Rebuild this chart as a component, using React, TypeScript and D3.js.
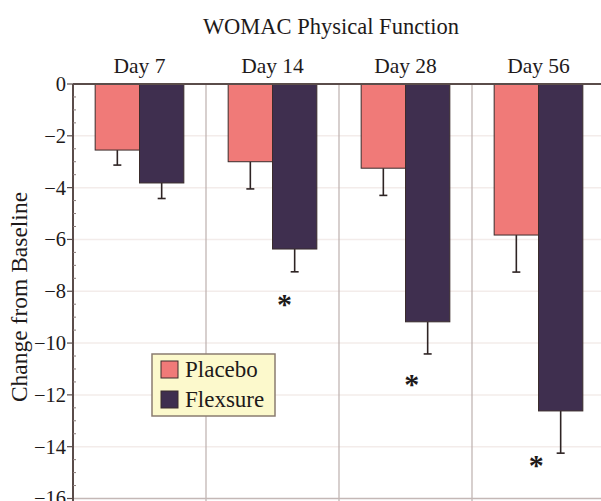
import React from "react";
import * as d3 from "d3";

// values
const days = ["Day 7", "Day 14", "Day 28", "Day 56"];
const series = ["Placebo", "Flexsure"];
const placebo = [-2.55, -3.0, -3.25, -5.83];
const placeboErr = [-3.13, -4.05, -4.3, -7.26];
const flexsure = [-3.82, -6.37, -9.18, -12.62];
const flexsureErr = [-4.42, -7.25, -10.42, -14.25];
const stars = [null, -8.3, -11.4, -14.5];
const starShift = [0, -0.23, -0.36, -0.55]; // star offset, in bar widths, from flexsure bar centre
const yTicks = [0, -2, -4, -6, -8, -10, -12, -14, -16];

const colors = ["#f07a78", "#3f2f4f"];
const W = 601;
const H = 501;
const margin = { top: 84, left: 73, right: -4, bottom: 2 };
const font = "'Liberation Serif', 'Times New Roman', serif";

export default function App() {
  const x = d3.scaleBand().domain(days).range([margin.left, W - margin.right]).padding(0);
  const inner = d3.scaleBand().domain(series).range([0, x.bandwidth()]).paddingInner(0).paddingOuter(0.5);
  const y = d3.scaleLinear().domain([0, -16]).range([margin.top, 498.5]);

  const values = [placebo, flexsure];
  const errs = [placeboErr, flexsureErr];
  const minor = d3.range(0, -16.01, -0.5).filter(v => !yTicks.includes(v));
  const capW = 8;

  return (
    <svg width={W} height={H} style={{ position: "absolute", left: 0, top: 0, background: "#fff" }} fontFamily={font}>
      {/* faint grid */}
      {yTicks.slice(1, -1).map(t => (
        <line key={"g" + t} x1={margin.left} x2={W} y1={y(t)} y2={y(t)} stroke="#f3ecea" strokeWidth={1.5} />
      ))}
      {/* group separators */}
      {days.slice(1).map(d => (
        <line key={"s" + d} x1={x(d)!} x2={x(d)!} y1={margin.top} y2={H} stroke="#bcb0ae" strokeWidth={1.2} />
      ))}
      <line x1={margin.left} x2={W} y1={y(-16)} y2={y(-16)} stroke="#c4b8b6" strokeWidth={1.5} />

      {/* bars */}
      {series.map((s, si) =>
        days.map((d, di) => {
          const bx = x(d)! + inner(s)!;
          const v = values[si][di];
          const cx = bx + inner.bandwidth() / 2;
          return (
            <g key={s + d}>
              <line x1={cx} x2={cx} y1={y(v)} y2={y(errs[si][di])} stroke="#2e2424" strokeWidth={1.6} />
              <line x1={cx - capW / 2} x2={cx + capW / 2} y1={y(errs[si][di])} y2={y(errs[si][di])} stroke="#2e2424" strokeWidth={1.6} />
              <rect x={bx} y={y(0)} width={inner.bandwidth()} height={y(v) - y(0)} fill={colors[si]} stroke="#3a2c2c" strokeWidth={1} />
            </g>
          );
        })
      )}

      {/* significance stars */}
      {days.map((d, di) =>
        stars[di] === null ? null : (
          <text key={"st" + d}
            x={x(d)! + inner("Flexsure")! + inner.bandwidth() / 2 + starShift[di] * inner.bandwidth()}
            y={y(stars[di] as number) + 15} textAnchor="middle" fontSize={30} fontWeight="bold" fill="#1e1a1a">*</text>
        )
      )}

      {/* y axis */}
      <line x1={margin.left} x2={margin.left} y1={margin.top} y2={H} stroke="#5a4c4a" strokeWidth={2} />
      <line x1={margin.left} x2={W} y1={margin.top} y2={margin.top} stroke="#5a4c4a" strokeWidth={2} />
      {minor.map(t => (
        <line key={"m" + t} x1={margin.left} x2={margin.left + 3} y1={y(t)} y2={y(t)} stroke="#8a7c7a" strokeWidth={1} />
      ))}
      {yTicks.map(t => (
        <g key={"t" + t}>
          <line x1={margin.left - 6} x2={margin.left} y1={y(t)} y2={y(t)} stroke="#5a4c4a" strokeWidth={1.2} />
          <text x={margin.left - 7} y={y(t)} dy="0.34em" textAnchor="end" fontSize={20.5} fill="#1e1a1a">
            {t < 0 ? "\u2212" + Math.abs(t) : t}
          </text>
        </g>
      ))}
      <text transform={`translate(27,${297}) rotate(-90)`} textAnchor="middle" fontSize={23.5} fill="#1e1a1a">
        Change from Baseline
      </text>

      {/* day labels + title */}
      {days.map(d => (
        <text key={"l" + d} x={x(d)! + x.bandwidth() / 2} y={73} textAnchor="middle" fontSize={21.5} fill="#1e1a1a">{d}</text>
      ))}
      <text x={331} y={34} textAnchor="middle" fontSize={22.5} fill="#1e1a1a">WOMAC Physical Function</text>

      {/* legend */}
      <g transform="translate(152,354)">
        <rect width={123} height={62} fill="#fcf9cc" stroke="#8a7c70" strokeWidth={1.5} />
        {series.map((s, i) => (
          <g key={"lg" + s} transform={`translate(9,${7 + i * 30})`}>
            <rect width={17} height={17} fill={colors[i]} stroke="#3a2c2c" strokeWidth={1} />
            <text x={24} y={16} fontSize={23} fill="#1e1a1a">{s}</text>
          </g>
        ))}
      </g>
    </svg>
  );
}
